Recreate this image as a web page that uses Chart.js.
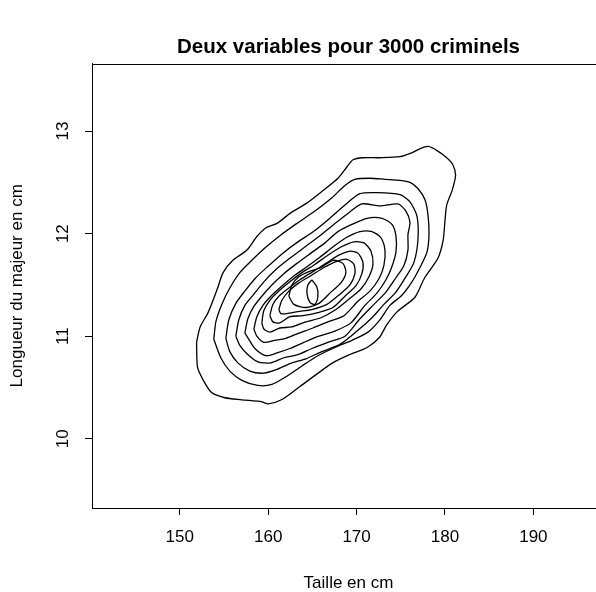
<!DOCTYPE html>
<html>
<head>
<meta charset="utf-8">
<script src="https://cdn.jsdelivr.net/npm/chart.js@4.4.1/dist/chart.umd.min.js"></script>
<style>
  html, body { margin: 0; padding: 0; background: #fff; overflow: hidden; }
  #wrap { width: 697px; height: 592px; }
</style>
</head>
<body>
<div id="wrap"><canvas id="contourChart" width="697" height="592"></canvas></div>
<script>
// tick labels
const xTicks = [150, 160, 170, 180, 190];
const yTicks = [10, 11, 12, 13];

// contour lines, outermost first (taille cm, majeur cm)
const contour1 = [[151.9,10.94],[152.3,11.09],[153.2,11.23],[154.2,11.45],[154.9,11.62],[156.0,11.74],[157.6,11.84],[158.7,11.97],[159.8,12.06],[161.0,12.10],[162.5,12.20],[164.4,12.30],[166.2,12.42],[167.9,12.54],[168.9,12.65],[169.6,12.72],[170.7,12.74],[172.6,12.74],[174.9,12.75],[176.3,12.79],[177.2,12.83],[178.1,12.85],[179.1,12.81],[180.2,12.74],[180.9,12.67],[181.2,12.57],[180.8,12.42],[180.2,12.28],[180.0,12.13],[179.8,11.94],[179.2,11.76],[177.7,11.57],[176.6,11.38],[174.6,11.24],[173.4,11.11],[172.6,10.99],[171.2,10.89],[169.2,10.82],[167.3,10.74],[165.8,10.65],[163.6,10.51],[161.5,10.38],[160.0,10.34],[159.3,10.36],[157.0,10.38],[155.1,10.40],[153.6,10.45],[152.6,10.58],[152.0,10.70],[151.9,10.94]];
const contour2 = [[153.85,10.97],[154.08,11.14],[154.75,11.31],[155.66,11.47],[156.79,11.62],[158.15,11.74],[159.62,11.86],[161.32,11.98],[163.25,12.10],[165.28,12.22],[167.21,12.35],[168.68,12.47],[169.81,12.53],[171.51,12.54],[173.21,12.53],[174.91,12.52],[176.04,12.50],[176.94,12.44],[177.74,12.33],[178.08,12.18],[178.19,11.99],[177.96,11.82],[177.17,11.67],[176.26,11.53],[175.13,11.40],[173.77,11.30],[172.64,11.16],[171.28,11.04],[169.47,10.96],[167.55,10.89],[165.62,10.81],[163.81,10.71],[162.11,10.61],[160.42,10.53],[158.83,10.52],[157.02,10.57],[155.66,10.66],[154.64,10.79],[153.85,10.97]];
const contour3 = [[155.21,10.98],[155.55,11.16],[156.34,11.32],[157.36,11.44],[158.60,11.57],[159.96,11.68],[161.66,11.81],[163.36,11.92],[165.28,12.03],[166.98,12.15],[168.68,12.28],[170.38,12.39],[172.30,12.40],[174.91,12.38],[176.04,12.31],[176.83,12.17],[176.94,11.94],[176.49,11.72],[175.58,11.58],[174.45,11.43],[173.09,11.31],[171.74,11.18],[170.04,11.05],[168.11,10.92],[166.07,10.85],[164.26,10.78],[162.68,10.74],[161.09,10.68],[159.51,10.64],[157.92,10.66],[156.57,10.74],[155.66,10.85],[155.21,10.98]];
const contour4 = [[156.34,11.00],[156.68,11.16],[157.36,11.30],[158.38,11.41],[159.51,11.53],[160.87,11.65],[162.45,11.76],[164.15,11.87],[165.85,11.98],[167.43,12.09],[168.91,12.19],[170.60,12.29],[172.64,12.27],[174.68,12.29],[175.58,12.22],[176.04,12.11],[175.81,11.99],[175.81,11.84],[175.36,11.69],[174.45,11.57],[173.32,11.43],[171.96,11.31],[170.38,11.17],[168.68,11.00],[166.75,10.94],[164.94,10.88],[163.36,10.82],[161.77,10.79],[160.30,10.74],[158.83,10.75],[157.59,10.83],[156.79,10.91],[156.34,11.00]];
const contour5 = [[157.36,11.03],[157.70,11.17],[158.38,11.29],[159.28,11.39],[160.42,11.50],[161.77,11.61],[163.25,11.71],[164.83,11.81],[166.42,11.91],[167.89,12.02],[169.47,12.09],[171.17,12.15],[172.87,12.15],[174.00,12.09],[174.45,11.98],[174.45,11.82],[174.00,11.68],[173.32,11.55],[172.30,11.42],[170.94,11.30],[169.36,11.13],[167.55,11.05],[165.74,11.00],[164.04,10.94],[162.45,10.88],[161.09,10.84],[159.74,10.81],[158.49,10.88],[157.81,10.97],[157.36,11.03]];
const contour6 = [[158.38,11.07],[158.72,11.19],[159.40,11.30],[160.30,11.39],[161.43,11.48],[162.79,11.58],[164.26,11.67],[165.85,11.77],[167.32,11.87],[168.79,11.96],[170.38,12.02],[171.74,12.02],[172.75,11.96],[173.21,11.84],[173.09,11.69],[172.53,11.56],[171.51,11.44],[170.15,11.34],[168.57,11.20],[166.75,11.14],[165.06,11.08],[163.47,11.03],[162.00,10.98],[160.75,10.96],[159.51,10.94],[158.72,11.00],[158.38,11.07]];
const contour7 = [[159.28,11.13],[159.51,11.25],[160.19,11.35],[161.21,11.44],[162.45,11.53],[163.81,11.62],[165.28,11.70],[166.75,11.79],[168.23,11.87],[169.70,11.92],[170.83,11.91],[171.62,11.83],[171.85,11.70],[171.40,11.58],[170.49,11.46],[169.25,11.37],[167.66,11.26],[165.96,11.18],[164.26,11.14],[162.68,11.09],[161.32,11.08],[160.19,11.04],[159.51,11.07],[159.28,11.13]];
const contour8 = [[160.19,11.20],[160.53,11.31],[161.21,11.39],[162.34,11.47],[163.59,11.55],[165.06,11.63],[166.53,11.71],[168.00,11.79],[169.25,11.83],[170.15,11.81],[170.72,11.72],[170.60,11.61],[169.92,11.49],[168.79,11.40],[167.32,11.28],[165.62,11.23],[163.92,11.20],[162.45,11.19],[161.32,11.13],[160.53,11.14],[160.19,11.20]];
const contour9 = [[161.21,11.26],[161.55,11.35],[162.34,11.44],[163.47,11.52],[164.83,11.59],[166.30,11.67],[167.77,11.73],[168.91,11.75],[169.70,11.70],[169.81,11.61],[169.25,11.50],[168.11,11.41],[166.64,11.31],[164.94,11.26],[163.36,11.24],[162.11,11.22],[161.43,11.22],[161.21,11.26]];
const contour10 = [[162.34,11.39],[162.68,11.50],[163.47,11.58],[164.60,11.63],[165.96,11.67],[167.32,11.74],[168.45,11.71],[168.79,11.62],[168.23,11.52],[167.10,11.43],[165.74,11.32],[164.26,11.28],[162.91,11.31],[162.34,11.39]];
const contour11 = [[164.94,11.55],[165.51,11.48],[165.62,11.38],[165.28,11.31],[164.72,11.33],[164.38,11.42],[164.49,11.50],[164.94,11.55]];

const contours = [contour1, contour2, contour3, contour4, contour5, contour6,
                  contour7, contour8, contour9, contour10, contour11];

const ctx = document.getElementById('contourChart').getContext('2d');

// R style box around the plot region
const boxPlugin = {
  id: 'box',
  afterDraw(chart) {
    const a = chart.chartArea;
    const c = chart.ctx;
    c.save();
    c.strokeStyle = '#000';
    c.lineWidth = 1;
    c.strokeRect(Math.round(a.left) + 0.5, Math.round(a.top) + 0.5,
                 Math.round(a.right - a.left), Math.round(a.bottom - a.top));
    c.restore();
  }
};

const font = { family: 'Liberation Sans, Arial, sans-serif', size: 17 };

const myChart = new Chart(ctx, {
  type: 'scatter',
  data: {
    datasets: contours.map(function (c, i) {
      return {
        label: 'niveau ' + (i + 1),
        data: c.map(function (p) { return { x: p[0], y: p[1] }; }),
        showLine: true,
        borderColor: '#000',
        borderWidth: 1.3,
        pointRadius: 0,
        tension: 0.25,
        fill: false
      };
    })
  },
  plugins: [boxPlugin],
  options: {
    responsive: false,
    animation: false,
    devicePixelRatio: 1,
    layout: { padding: 0 },
    plugins: {
      legend: { display: false },
      tooltip: { enabled: false },
      title: {
        display: true,
        text: 'Deux variables pour 3000 criminels',
        color: '#000',
        font: { family: font.family, size: 20.5, weight: 'bold', lineHeight: 1.2 },
        padding: { top: 35, bottom: 4 }
      }
    },
    scales: {
      x: {
        type: 'linear',
        min: 140.07,
        max: 198.1,
        afterBuildTicks: function (s) { s.ticks = xTicks.map(function (v) { return { value: v }; }); },
        afterFit: function (s) { s.height = 84; },
        ticks: { color: '#000', font: font, padding: 12, maxRotation: 0, autoSkip: false },
        grid: { display: true, drawOnChartArea: false, drawTicks: true, tickLength: 7, color: '#000', lineWidth: 1 },
        border: { display: true, color: '#000', width: 1 },
        title: { display: true, text: 'Taille en cm', color: '#000',
                 font: { family: font.family, size: 17, lineHeight: 1 }, padding: 0 }
      },
      y: {
        type: 'linear',
        min: 9.325,
        max: 13.658,
        afterBuildTicks: function (s) { s.ticks = yTicks.map(function (v) { return { value: v }; }); },
        afterFit: function (s) { s.width = 92; },
        ticks: { color: '#000', font: font, padding: 12, minRotation: 90, maxRotation: 90,
                 crossAlign: 'center', autoSkip: false },
        grid: { display: true, drawOnChartArea: false, drawTicks: true, tickLength: 7, color: '#000', lineWidth: 1 },
        border: { display: true, color: '#000', width: 1 },
        title: { display: true, text: 'Longueur du majeur en cm', color: '#000',
                 font: { family: font.family, size: 17, lineHeight: 1.2 }, padding: { top: 7, bottom: 0 } }
      },
      yRight: {
        type: 'linear',
        position: 'right',
        display: true,
        afterFit: function (s) { s.width = 92; },
        ticks: { display: false },
        grid: { display: false },
        border: { display: false }
      }
    }
  }
});
</script>
</body>
</html>
